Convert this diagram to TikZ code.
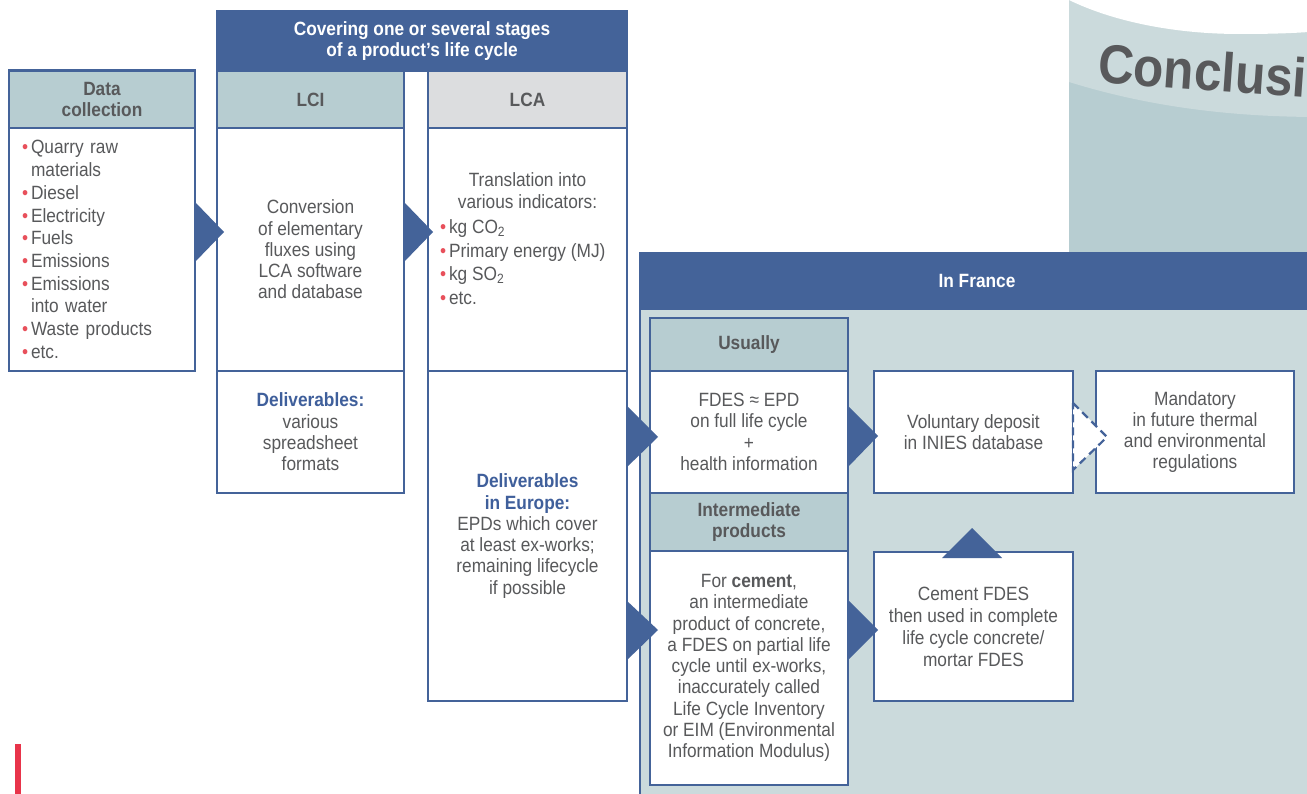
\documentclass[tikz,border=0pt]{standalone}
\usepackage{fontspec}
\setmainfont{Liberation Sans}[FakeStretch=0.9]
\definecolor{frblue}{RGB}{68,99,153}
\definecolor{headfill}{RGB}{183,205,209}
\definecolor{lcagray}{RGB}{220,221,223}
\definecolor{panelfill}{RGB}{203,218,220}
\definecolor{txgray}{RGB}{88,89,91}
\definecolor{bulred}{RGB}{232,80,91}
\definecolor{barred}{RGB}{232,52,74}
\definecolor{delblue}{RGB}{63,95,155}
\newcommand{\bul}{\makebox[9pt][l]{\textcolor{bulred}{\textbullet}}}
\newcommand{\ind}{\hspace*{9pt}}
\newcommand{\deliv}[1]{\textcolor{delblue}{\bfseries #1}}

\begin{document}
\begin{tikzpicture}[x=1pt,y=1pt,
    every node/.style={inner sep=0pt, outer sep=0pt, text=txgray, font=\fontsize{19.2}{21.3}\selectfont},
    cell/.style={draw=frblue, line width=2.2pt, fill=white, align=center},
    headcell/.style={cell, fill=headfill, font=\fontsize{19.2}{21}\selectfont\bfseries},
    bluehead/.style={draw=frblue, line width=2.2pt, fill=frblue, text=white, align=center, font=\fontsize{19.2}{21}\selectfont\bfseries},
    tri/.style={fill=frblue}]
    \useasboundingbox (0,0) rectangle (1307,-794);
    \clip (0,0) rectangle (1307,-794);
    % conclusion corner
    \fill[headfill] (1069,0) rectangle (1320,-260);
    \fill[panelfill] (1069,0) -- (1069,-82) .. controls (1140,-104) and (1220,-117) .. (1320,-117) -- (1320,0) -- cycle;
    \fill[white] (1069,0) .. controls (1110,-20) and (1170,-34) .. (1240,-34) .. controls (1275,-34) and (1300,-33) .. (1320,-31) -- (1320,2) -- (1069,2) -- cycle;
    \node[font=\fontsize{55}{55}\selectfont\bfseries, rotate=-4, anchor=base west] (concl) at (1097,-83) {Conclusi};
    % in france
    \node[draw=frblue, line width=2.2pt, fill=panelfill, minimum width=680, minimum height=560, anchor=north west] (france) at (640,-253) {};
    \node[bluehead, minimum width=674, minimum height=56, anchor=north west] (frhead) at (640,-253) {In France};
    % data collection
    \node[headcell, minimum width=186, minimum height=58] (dchead) at (102,-99.5) {Data\\collection};
    \node[cell, minimum width=186, minimum height=243, text width=160, align=left, font=\fontsize{19.2}{22.7}\selectfont] (dcbody) at (102,-249.5)
        {\bul Quarry raw\\\ind materials\\\bul Diesel\\\bul Electricity\\\bul Fuels\\\bul Emissions\\\bul Emissions\\\ind into water\\\bul Waste products\\\bul etc.};
    % life cycle stages
    \node[bluehead, minimum width=410, minimum height=59] (stages) at (422,-41) {Covering one or several stages\\of a product's life cycle};
    \node[headcell, minimum width=187, minimum height=58] (lcihead) at (310.5,-99.5) {LCI};
    \node[cell, minimum width=187, minimum height=243] (lcibody) at (310.5,-249.5) {Conversion\\of elementary\\fluxes using\\LCA software\\and database};
    \node[cell, minimum width=187, minimum height=122] (lcideliv) at (310.5,-432) {\deliv{Deliverables:}\\various\\spreadsheet\\formats};
    \node[headcell, fill=lcagray, minimum width=199, minimum height=58] (lcahead) at (527.5,-99.5) {LCA};
    \node[cell, minimum width=199, minimum height=243] (lcabody) at (527.5,-249.5) {};
    \node[align=center] (lcatop) at (527.5,-190.5) {Translation into\\various indicators:};
    \node[align=left, anchor=north west, font=\fontsize{19.2}{23.7}\selectfont] (lcalist) at (440,-219.5)
        {\bul kg CO\textsubscript{2}\\\bul Primary energy (MJ)\\\bul kg SO\textsubscript{2}\\\bul etc.};
    \node[cell, minimum width=199, minimum height=330] (lcadeliv) at (527.5,-536)
        {\deliv{Deliverables}\\\deliv{in Europe:}\\EPDs which cover\\at least ex-works;\\remaining lifecycle\\if possible};
    % france boxes
    \node[headcell, minimum width=198, minimum height=53] (ushead) at (749,-344.5) {Usually};
    \node[cell, minimum width=198, minimum height=122] (usbody) at (749,-432) {FDES ≈ EPD\\on full life cycle\\+\\health information};
    \node[headcell, minimum width=198, minimum height=58] (inhead) at (749,-522) {Intermediate\\products};
    \node[cell, minimum width=198, minimum height=234] (inbody) at (749,-668)
        {For \textbf{cement},\\an intermediate\\product of concrete,\\a FDES on partial life\\cycle until ex-works,\\inaccurately called\\Life Cycle Inventory\\or EIM (Environmental\\Information Modulus)};
    \node[cell, minimum width=199, minimum height=122] (volbox) at (973.5,-432) {Voluntary deposit\\in INIES database};
    \node[cell, minimum width=198, minimum height=122] (mandbox) at (1195,-432) {Mandatory\\in future thermal\\and environmental\\regulations};
    \node[cell, minimum width=199, minimum height=149, font=\fontsize{19.2}{22}\selectfont] (cembox) at (973.5,-626.5) {Cement FDES\\then used in complete\\life cycle concrete/\\mortar FDES};
    % arrows
    \fill[tri] (195,-202) -- (224,-232) -- (195,-262) -- cycle;
    \fill[tri] (404,-202) -- (433,-232) -- (404,-262) -- cycle;
    \fill[tri] (626,-405) -- (658,-437) -- (626,-468) -- cycle;
    \fill[tri] (626,-600) -- (658,-630) -- (626,-661) -- cycle;
    \fill[tri] (848,-406) -- (878,-436) -- (848,-467) -- cycle;
    \fill[tri] (848,-600) -- (878,-630) -- (848,-660) -- cycle;
    \fill[tri] (942,-558) -- (972,-528) -- (1002,-558) -- cycle;
    \filldraw[fill=white, draw=frblue, line width=2.2pt, dash pattern=on 8pt off 5pt] (1073,-403) -- (1107,-437) -- (1073,-470) -- cycle;
    \fill[barred] (15,-744) rectangle (21,-800);
\end{tikzpicture}
\end{document}
